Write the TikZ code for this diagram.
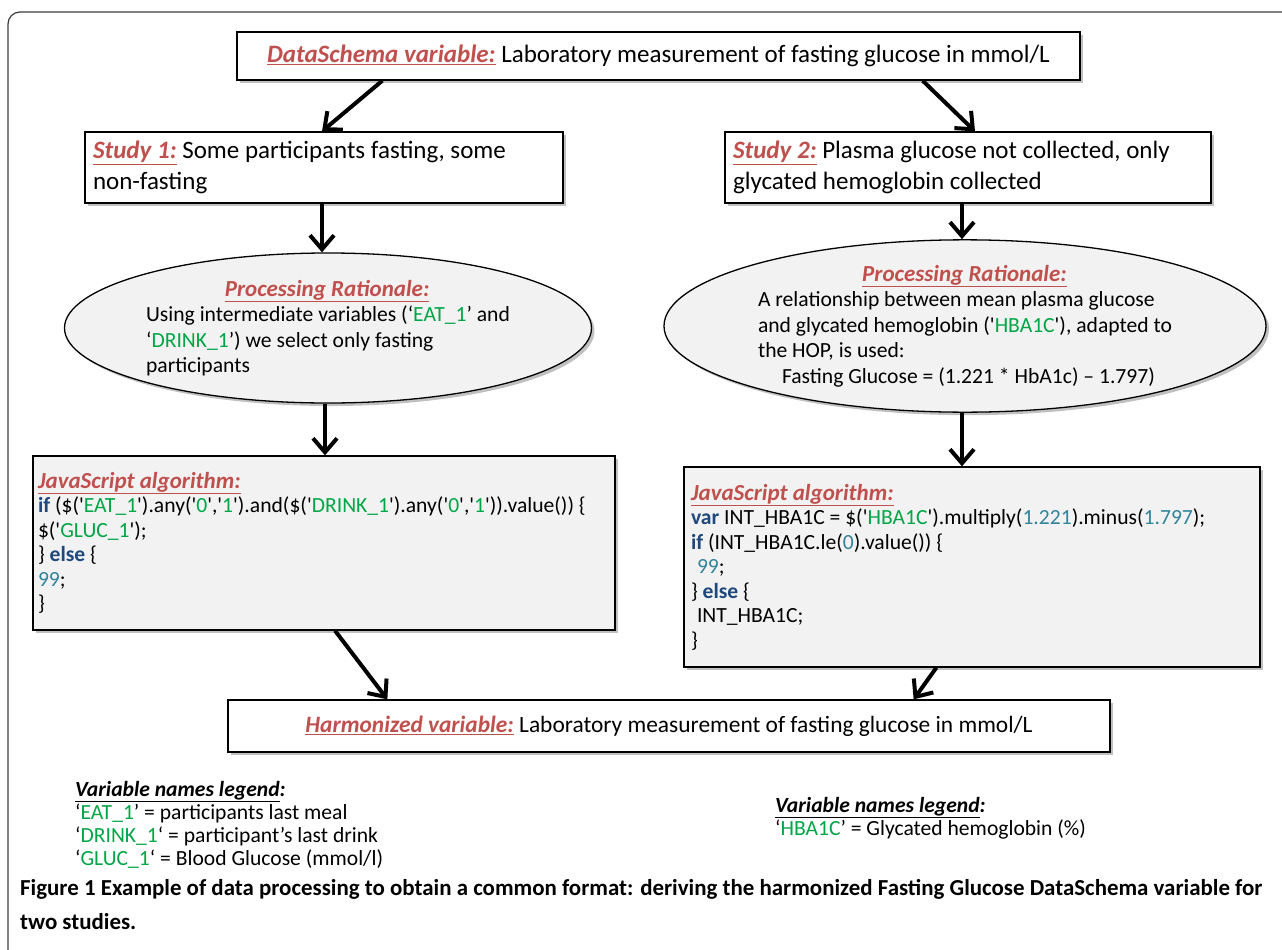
\documentclass[tikz,border=0pt]{standalone}
\usepackage{fontspec}
\setmainfont{Carlito}
\usetikzlibrary{shapes.geometric,shadows,arrows.meta,calc}
\definecolor{lblred}{RGB}{192,80,77}
\definecolor{vgreen}{RGB}{0,166,70}
\definecolor{kwblue}{RGB}{31,73,125}
\definecolor{numblue}{RGB}{49,132,155}
\definecolor{boxgray}{RGB}{242,242,242}
\definecolor{framegray}{RGB}{60,60,60}
\newcommand{\lbl}[1]{{\color{lblred}\bfseries\itshape\underline{#1}}}
\newcommand{\vn}[1]{{\color{vgreen}#1}}
\newcommand{\kw}[1]{{\color{kwblue}\bfseries #1}}
\newcommand{\nm}[1]{{\color{numblue}#1}}
\newcommand{\sq}{\textquotesingle}
\newcommand{\ttl}[1]{{\fontsize{23}{28}\selectfont\lbl{#1}}}
\begin{document}
\begin{tikzpicture}[x=1pt,y=-1pt,
  shd/.style={drop shadow={shadow xshift=3pt,shadow yshift=-3pt,fill=black!45,opacity=0.55}},
  wbox/.style={draw=black,line width=1.3pt,fill=white,shd,inner sep=0pt},
  gbox/.style={draw=black,line width=1.3pt,fill=boxgray,shd,inner sep=0pt},
  gell/.style={ellipse,draw=black,line width=1.3pt,fill=boxgray,shd,inner sep=0pt},
  arr/.style={line width=4pt,-{Straight Barb[length=14pt,width=24pt]}},
  main/.style={font=\fontsize{25}{30.5}\selectfont},
  small/.style={font=\fontsize{21.6}{25.5}\selectfont},
  code/.style={font=\fontsize{21.6}{24.5}\selectfont}]
\useasboundingbox (0,0) rectangle (1282,950);
\draw[framegray,line width=1.2pt,rounded corners=12pt] (8,970) -- (8,12) -- (1300,12);

% boxes
\node[wbox,main,minimum width=843pt,minimum height=48pt] (top) at (658.5,56)
  {\lbl{DataSchema variable:} Laboratory measurement of fasting glucose in mmol/L};
\node[wbox,main,minimum width=478pt,minimum height=71pt,text width=462pt,align=flush left] (s1) at (324,167.5)
  {\lbl{Study 1:} Some participants fasting, some\\non-fasting};
\node[wbox,main,minimum width=486pt,minimum height=71pt,text width=470pt,align=flush left] (s2) at (968,167.5)
  {\lbl{Study 2:} Plasma glucose not collected, only\\glycated hemoglobin collected};

\node[gell,small,minimum width=527pt,minimum height=150pt,align=flush left] (e1) at (328,328)
  {\makebox[362pt]{\ttl{Processing Rationale:}}\\
   Using intermediate variables (‘\vn{EAT\_1}’ and\\
   ‘\vn{DRINK\_1}’) we select only fasting\\
   participants};
\node[gell,small,minimum width=602pt,minimum height=172pt,align=flush left] (e2) at (965,326)
  {\makebox[413pt]{\ttl{Processing Rationale:}}\\
   A relationship between mean plasma glucose\\
   and glycated hemoglobin (\sq\vn{HBA1C}\sq), adapted to\\
   the HOP, is used:\\
   \hspace*{24pt}Fasting Glucose = (1.221 * HbA1c) -- 1.797)};

\node[gbox,code,minimum width=582pt,minimum height=174pt,text width=572pt,align=flush left] (js1) at (324,543)
  {\ttl{JavaScript algorithm:}\\
   \kw{if} (\$(\sq\vn{EAT\_1}\sq).any(\sq\vn{0}\sq,\sq\vn{1}\sq).and(\$(\sq\vn{DRINK\_1}\sq).any(\sq\vn{0}\sq,\sq\vn{1}\sq)).value()) \{\\
   \$(\sq\vn{GLUC\_1}\sq);\\
   \} \kw{else} \{\\
   \nm{99};\\
   \}};
\node[gbox,code,minimum width=576pt,minimum height=200pt,text width=562pt,align=flush left] (js2) at (972,567)
  {\ttl{JavaScript algorithm:}\\
   \kw{var} INT\_HBA1C = \$(\sq\vn{HBA1C}\sq).multiply(\nm{1.221}).minus(\nm{1.797});\\
   \kw{if} (INT\_HBA1C.le(\nm{0}).value()) \{\\
   \hspace*{6pt}\nm{99};\\
   \} \kw{else} \{\\
   \hspace*{6pt}INT\_HBA1C;\\
   \}};

\node[wbox,font=\fontsize{23.4}{28}\selectfont,minimum width=882pt,minimum height=52pt] (harm) at (669,726)
  {\lbl{Harmonized variable:} Laboratory measurement of fasting glucose in mmol/L};

% arrows
\draw[arr] ([xshift=146pt]top.south west) -- ([xshift=-2pt]s1.north);
\draw[arr] ([xshift=-158pt]top.south east) -- ([xshift=7pt]s2.north);
\draw[arr] ([xshift=-2pt]s1.south) -- ([xshift=-2pt]s1.south |- e1.north);
\draw[arr] ([xshift=-6pt]s2.south) -- ([xshift=-6pt]s2.south |- e2.north);
\draw[arr] ([xshift=-3pt]e1.south) -- ([xshift=-3pt]e1.south |- js1.north);
\draw[arr] ([xshift=-3pt]e2.south) -- ([xshift=-3pt]e2.south |- js2.north);
\draw[arr] ([xshift=11pt]js1.south) -- ([xshift=160pt]harm.north west);
\draw[arr] ([xshift=253pt]js2.south west) -- ([xshift=-197pt]harm.north east);

% legends
\node[anchor=north west,align=flush left,font=\fontsize{21.6}{23}\selectfont,inner sep=0pt] (leg1) at (75,781)
  {\textbf{\textit{\underline{Variable names legend}:}}\\
   ‘\vn{EAT\_1}’ = participants last meal\\
   ‘\vn{DRINK\_1}‘ = participant's last drink\\
   ‘\vn{GLUC\_1}‘ = Blood Glucose (mmol/l)};
\node[anchor=north west,align=flush left,font=\fontsize{21.6}{23.5}\selectfont,inner sep=0pt] (leg2) at (775,797)
  {\textbf{\textit{\underline{Variable names legend}:}}\\
   ‘\vn{HBA1C}’ = Glycated hemoglobin (\%)};

% caption
\node[anchor=north west,align=flush left,font=\fontsize{22.9}{34}\selectfont\bfseries,inner sep=0pt] (cap) at (20,879)
  {Figure 1 Example of data processing to obtain a common format: deriving the harmonized Fasting Glucose DataSchema variable for\\
   two studies.};
\end{tikzpicture}
\end{document}
